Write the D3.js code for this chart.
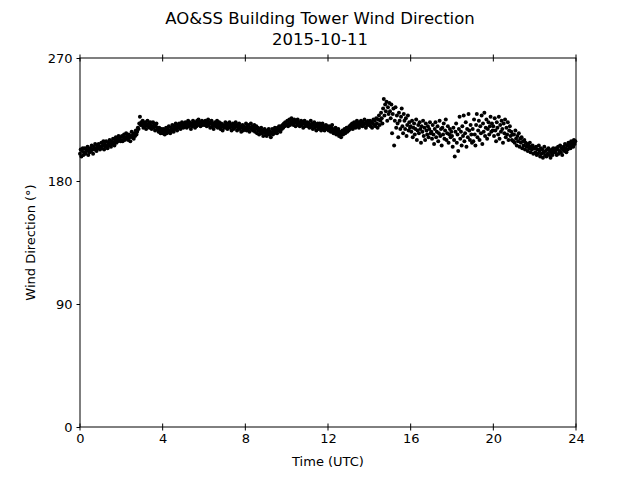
<!DOCTYPE html>
<html>
<head>
<meta charset="utf-8">
<script src="https://cdn.jsdelivr.net/npm/d3@7"></script>
<style>
  body { margin: 0; background: #fff; }
  text { font-family: "DejaVu Sans", sans-serif; fill: #000; }
</style>
</head>
<body>
<div id="chart"></div>
<script>
// Wind direction, 30 readings per hour (every 2 min), degrees
var dir_h00 = [200,203,198,202,204,199,201,204,200,203,202,205,199,203,201,204,202,206,203,200,205,203,207,204,202,206,204,207,205,203];
var dir_h01 = [205,208,204,206,209,203,207,205,209,206,204,208,206,210,207,205,209,207,211,208,206,210,212,208,211,209,213,210,212,209];
var dir_h02 = [210,213,209,212,214,210,212,215,211,213,210,214,212,209,213,216,212,214,211,215,213,217,214,216,219,218,222,227,221,223];
var dir_h03 = [221,224,219,222,220,223,218,221,224,220,222,219,223,221,218,220,223,219,221,217,220,222,218,219,216,219,217,215,218,216];
var dir_h04 = [215,218,216,214,217,219,215,218,216,220,217,215,219,217,221,218,216,220,218,222,219,217,221,219,222,220,218,221,223,220];
var dir_h05 = [219,222,220,223,221,219,222,224,220,223,221,218,222,220,224,221,223,219,222,220,224,222,225,221,223,220,222,224,221,223];
var dir_h06 = [223,221,224,222,220,223,225,221,223,219,222,224,220,222,218,221,223,220,222,224,219,221,223,220,218,222,220,217,221,219];
var dir_h07 = [220,223,219,221,218,222,220,223,219,221,217,220,222,218,221,219,223,220,217,221,219,222,218,220,216,219,221,217,220,218];
var dir_h08 = [219,222,217,220,218,221,216,219,222,218,220,217,219,221,216,218,220,215,219,217,214,218,216,219,215,217,213,216,218,215];
var dir_h09 = [216,213,217,215,218,214,216,212,215,218,214,217,215,219,216,218,215,219,217,220,218,216,220,218,221,219,222,220,223,221];
var dir_h10 = [221,224,220,222,225,221,223,226,222,224,221,225,223,220,224,222,225,221,223,220,222,224,221,223,219,222,224,220,222,221];
var dir_h11 = [223,220,222,219,221,224,220,222,218,221,223,219,221,217,220,222,218,220,222,219,217,220,222,218,220,217,219,221,218,220];
var dir_h12 = [219,217,220,218,216,219,221,217,215,218,216,219,214,217,215,218,213,216,214,212,215,217,214,216,218,215,217,219,216,218];
var dir_h13 = [217,220,218,221,219,222,218,220,223,221,219,222,224,220,222,219,223,221,224,222,220,223,221,225,222,219,223,221,224,222];
var dir_h14 = [221,224,220,223,219,222,225,221,224,220,226,222,219,225,228,221,224,230,226,222,233,240,228,236,231,238,224,234,229,237];
var dir_h15 = [231,226,236,215,229,233,206,224,234,219,228,222,212,230,224,218,227,233,220,215,229,224,218,226,213,221,228,217,223,219];
var dir_h16 = [220,216,224,212,219,222,214,218,225,210,217,221,215,223,218,208,220,216,224,213,219,210,222,217,214,220,212,218,223,215];
var dir_h17 = [216,211,221,214,207,218,223,212,216,220,209,215,224,213,218,206,219,214,222,211,217,225,210,215,220,208,214,218,212,216];
var dir_h18 = [213,205,219,210,198,216,222,208,214,202,218,227,211,216,206,220,213,228,209,215,223,205,218,212,229,217,210,221,214,208];
var dir_h19 = [218,209,225,214,206,221,229,212,217,224,210,220,215,228,207,222,216,230,213,219,225,211,218,223,214,220,227,216,222,217];
var dir_h20 = [220,213,226,217,209,223,219,214,227,211,221,216,224,218,208,222,215,225,212,219,214,223,210,217,220,213,216,210,214,209];
var dir_h21 = [214,208,217,211,206,213,209,215,205,211,208,212,204,209,206,210,203,208,205,207,202,206,204,208,201,205,203,206,200,204];
var dir_h22 = [204,201,205,199,203,200,206,202,198,204,200,203,197,201,205,199,202,198,203,200,204,199,202,197,201,203,199,204,201,202];
var dir_h23 = [201,204,199,203,205,200,202,206,201,204,199,203,205,202,207,204,201,206,203,208,205,207,204,209,206,208,205,210,207,209];

var xTicks = [0, 4, 8, 12, 16, 20, 24];
var yTicks = [0, 90, 180, 270];

var hours = [dir_h00, dir_h01, dir_h02, dir_h03, dir_h04, dir_h05, dir_h06, dir_h07,
             dir_h08, dir_h09, dir_h10, dir_h11, dir_h12, dir_h13, dir_h14, dir_h15,
             dir_h16, dir_h17, dir_h18, dir_h19, dir_h20, dir_h21, dir_h22, dir_h23];

// flatten into {t, dir}
var data = [];
hours.forEach(function(arr, h) {
	arr.forEach(function(v, i) {
		data.push({t: h + i / arr.length, dir: v});
	});
});

var margin = {top: 58, right: 64, bottom: 53, left: 80},
	width = 640 - margin.left - margin.right,
	height = 480 - margin.top - margin.bottom;

var svg = d3.select("#chart")
	.append("svg")
	.attr("width", 640)
	.attr("height", 480);

var g = svg.append("g")
	.attr("transform", "translate(" + margin.left + "," + margin.top + ")");

var x = d3.scaleLinear().domain([0, 24]).range([0, width]);
var y = d3.scaleLinear().domain([0, 270]).range([height, 0]);

// points
g.append("g")
	.selectAll("circle")
	.data(data)
	.enter()
	.append("circle")
		.attr("cx", function(d) { return x(d.t); })
		.attr("cy", function(d) { return y(d.dir); })
		.attr("r", 2)
		.attr("fill", "#000");

// bottom axis, ticks crossing the spine
var xAxis = g.append("g")
	.attr("transform", "translate(0," + height + ")")
	.call(d3.axisBottom(x).tickValues(xTicks).tickSize(0).tickPadding(7));
xAxis.select(".domain").remove();
xAxis.selectAll(".tick line").remove();
xAxis.selectAll("text").style("font-size", "13px");

g.selectAll(".xtick-b")
	.data(xTicks)
	.enter().append("line")
	.attr("x1", function(d) { return x(d); })
	.attr("x2", function(d) { return x(d); })
	.attr("y1", height - 3.5)
	.attr("y2", height + 3.5)
	.attr("stroke", "#000");

g.selectAll(".xtick-t")
	.data(xTicks)
	.enter().append("line")
	.attr("x1", function(d) { return x(d); })
	.attr("x2", function(d) { return x(d); })
	.attr("y1", -3.5)
	.attr("y2", 3.5)
	.attr("stroke", "#000");

// left axis
var yAxis = g.append("g")
	.call(d3.axisLeft(y).tickValues(yTicks).tickSize(3.5).tickPadding(4));
yAxis.select(".domain").remove();
yAxis.selectAll("text").style("font-size", "13px");

// frame
g.append("rect")
	.attr("width", width)
	.attr("height", height)
	.attr("fill", "none")
	.attr("stroke", "#000")
	.attr("stroke-width", 1);

// titles
svg.append("text")
	.attr("x", 320)
	.attr("y", 24)
	.attr("text-anchor", "middle")
	.style("font-size", "16.5px")
	.text("AO&SS Building Tower Wind Direction");
svg.append("text")
	.attr("x", 320)
	.attr("y", 45)
	.attr("text-anchor", "middle")
	.style("font-size", "16.5px")
	.text("2015-10-11");

svg.append("text")
	.attr("x", margin.left + width / 2)
	.attr("y", 466)
	.attr("text-anchor", "middle")
	.style("font-size", "13px")
	.text("Time (UTC)");

svg.append("text")
	.attr("transform", "translate(35," + (margin.top + height / 2) + ") rotate(-90)")
	.attr("text-anchor", "middle")
	.style("font-size", "13px")
	.text("Wind Direction (°)");
</script>
</body>
</html>
